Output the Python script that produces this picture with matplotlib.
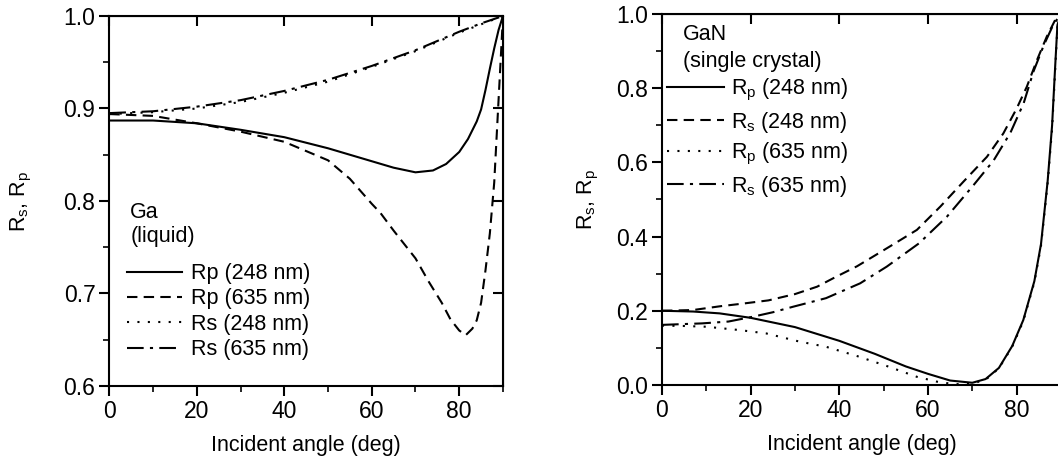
import matplotlib
matplotlib.use("Agg")
from matplotlib import pyplot as plt
from matplotlib.ticker import MultipleLocator, NullLocator

plt.rcParams['font.family'] = ['Liberation Sans', 'DejaVu Sans']
plt.rcParams['mathtext.fontset'] = 'custom'
plt.rcParams['mathtext.rm'] = 'Liberation Sans'
plt.rcParams['mathtext.it'] = 'Liberation Sans:italic'

# ---- Ga (liquid) ----
ga_rp248_x = [0, 10, 20, 30, 40, 50, 60, 65, 70, 74, 77, 80, 82, 84, 85, 86, 87, 88, 89, 90]
ga_rp248_y = [0.887, 0.887, 0.884, 0.877, 0.869, 0.857, 0.843, 0.836, 0.831, 0.833, 0.840, 0.853,
              0.867, 0.886, 0.899, 0.920, 0.943, 0.965, 0.985, 1.0]
ga_rp635_x = [0, 10, 20, 30, 40, 50, 55, 60, 62, 65, 70, 73, 76, 78, 80, 81.5, 83, 84, 85, 86, 87,
              88, 89, 89.5, 90]
ga_rp635_y = [0.894, 0.892, 0.884, 0.875, 0.864, 0.844, 0.824, 0.797, 0.787, 0.768, 0.738, 0.713,
              0.690, 0.672, 0.660, 0.655, 0.662, 0.671, 0.690, 0.725, 0.765, 0.820, 0.910, 0.955, 1.0]
ga_rs_x = [0, 10, 20, 30, 40, 50, 60, 70, 80, 85, 90]
ga_rs248_y = [0.894, 0.896, 0.900, 0.907, 0.917, 0.929, 0.945, 0.962, 0.982, 0.991, 1.0]
ga_rs635_y = [0.895, 0.897, 0.902, 0.909, 0.919, 0.931, 0.946, 0.963, 0.983, 0.992, 1.0]

# ---- GaN (single crystal) ----
gan_rp248_x = [0, 7, 13, 20, 30, 40, 48, 55, 60, 65, 70, 73, 76, 79, 81.5, 84, 85.5, 87, 88, 88.7,
               89.2, 90]
gan_rp248_y = [0.200, 0.198, 0.193, 0.181, 0.156, 0.119, 0.084, 0.050, 0.030, 0.012, 0.006, 0.016,
               0.046, 0.105, 0.175, 0.280, 0.380, 0.550, 0.700, 0.860, 0.970, 1.0]
gan_rs248_x = [0, 7, 13, 18, 24, 30, 35, 39, 44, 49, 53, 57.5, 62.8, 68, 73.3, 77, 80, 82.3, 84.6,
               86.8, 88.7, 90]
gan_rs248_y = [0.200, 0.202, 0.212, 0.219, 0.228, 0.245, 0.265, 0.290, 0.320, 0.356, 0.385, 0.418,
               0.481, 0.548, 0.615, 0.678, 0.745, 0.804, 0.876, 0.939, 0.984, 1.0]
gan_rp635_x = [0, 5, 10, 17.5, 23.5, 31, 37, 44, 50.5, 57.5, 62, 66, 70, 73, 76, 79, 81.5, 84,
               85.5, 87, 88, 88.7, 89.2, 90]
gan_rp635_y = [0.160, 0.159, 0.157, 0.148, 0.139, 0.117, 0.103, 0.078, 0.052, 0.022, 0.009, 0.002,
               0.004, 0.014, 0.045, 0.103, 0.172, 0.277, 0.375, 0.545, 0.690, 0.850, 0.965, 1.0]
gan_rs635_x = [0, 9, 15, 20.5, 25, 29.6, 37, 44.7, 50.7, 58, 64.3, 70.3, 74.8, 78.6, 81.6, 83.8,
               86.1, 88.3, 90]
gan_rs635_y = [0.162, 0.166, 0.171, 0.184, 0.196, 0.211, 0.234, 0.274, 0.319, 0.382, 0.454, 0.539,
               0.605, 0.680, 0.760, 0.845, 0.915, 0.972, 1.0]

xlabel = "Incident angle (deg)"
ylabel = r"R$_\mathrm{s}$, R$_\mathrm{p}$"

DASH = (0, (5, 3))
DOT = (0, (1, 4))
DASHDOT = (0, (8, 3, 1.5, 3))
LW = 1.5


def style_axis(ax, ymin, ymax, ymajor, yminor, ylabelpad, right_ticks=True):
    ax.set_xlim(0, 90)
    ax.set_ylim(ymin, ymax)
    ax.xaxis.set_major_locator(MultipleLocator(20))
    ax.xaxis.set_minor_locator(MultipleLocator(10))
    ax.yaxis.set_major_locator(MultipleLocator(ymajor))
    ax.yaxis.set_minor_locator(MultipleLocator(yminor))
    ax.yaxis.set_major_formatter('{x:.1f}')
    ax.tick_params(which='major', direction='out', length=7, width=1.5, labelsize=16.5, pad=3)
    ax.tick_params(which='minor', direction='out', length=4, width=1.2)
    for sp in ax.spines.values():
        sp.set_linewidth(1.5)
    # mirrored ticks pointing inward on top / right
    top = ax.secondary_xaxis('top')
    top.xaxis.set_major_locator(MultipleLocator(20))
    top.xaxis.set_minor_locator(NullLocator())
    top.tick_params(direction='in', length=7, width=1.5, labeltop=False)
    if right_ticks:
        right = ax.secondary_yaxis('right')
        right.yaxis.set_major_locator(MultipleLocator(ymajor))
        right.yaxis.set_minor_locator(NullLocator())
        right.tick_params(direction='in', length=7, width=1.5, labelright=False)
    ax.set_xlabel(xlabel, fontsize=15.5, labelpad=9)
    ax.set_ylabel(ylabel, fontsize=15.5, labelpad=ylabelpad)


fig = plt.figure(figsize=(10.58, 4.61), dpi=100)

ax1 = fig.add_axes([0.1033, 0.1627, 0.3721, 0.8026])
ax1.plot(ga_rp248_x, ga_rp248_y, color='black', lw=LW, ls='-', label='Rp (248 nm)')
ax1.plot(ga_rp635_x, ga_rp635_y, color='black', lw=LW, ls=DASH, label='Rp (635 nm)')
ax1.plot(ga_rs_x, ga_rs248_y, color='black', lw=LW, ls=DOT, label='Rs (248 nm)')
ax1.plot(ga_rs_x, ga_rs635_y, color='black', lw=LW, ls=DASHDOT, label='Rs (635 nm)')
style_axis(ax1, 0.6, 1.0, 0.1, 0.05, ylabelpad=21)
ax1.text(0.053, 0.47, "Ga", transform=ax1.transAxes, fontsize=15.5, va='center')
ax1.text(0.053, 0.403, "(liquid)", transform=ax1.transAxes, fontsize=15.5, va='center')
ax1.legend(loc='upper left', bbox_to_anchor=(0.045, 0.332), frameon=False, fontsize=15.5,
           handlelength=2.55, handletextpad=0.4, labelspacing=0.2, borderpad=0, borderaxespad=0)

ax2 = fig.add_axes([0.6257, 0.1649, 0.3771, 0.8048])
ax2.plot(gan_rp248_x, gan_rp248_y, color='black', lw=LW, ls='-', label=r'R$_\mathrm{p}$ (248 nm)')
ax2.plot(gan_rs248_x, gan_rs248_y, color='black', lw=LW, ls=DASH, label=r'R$_\mathrm{s}$ (248 nm)')
ax2.plot(gan_rp635_x, gan_rp635_y, color='black', lw=LW, ls=DOT, label=r'R$_\mathrm{p}$ (635 nm)')
ax2.plot(gan_rs635_x, gan_rs635_y, color='black', lw=LW, ls=DASHDOT, label=r'R$_\mathrm{s}$ (635 nm)')
style_axis(ax2, 0.0, 1.0, 0.2, 0.1, ylabelpad=11, right_ticks=False)
ax2.text(0.053, 0.945, "GaN", transform=ax2.transAxes, fontsize=15.5, va='center')
ax2.text(0.053, 0.871, "(single crystal)", transform=ax2.transAxes, fontsize=15.5, va='center')
ax2.legend(loc='upper left', bbox_to_anchor=(0.013, 0.83), frameon=False, fontsize=15.5,
           handlelength=2.65, handletextpad=0.3, labelspacing=0.3, borderpad=0, borderaxespad=0)

fig.savefig("out.png", dpi=100)
